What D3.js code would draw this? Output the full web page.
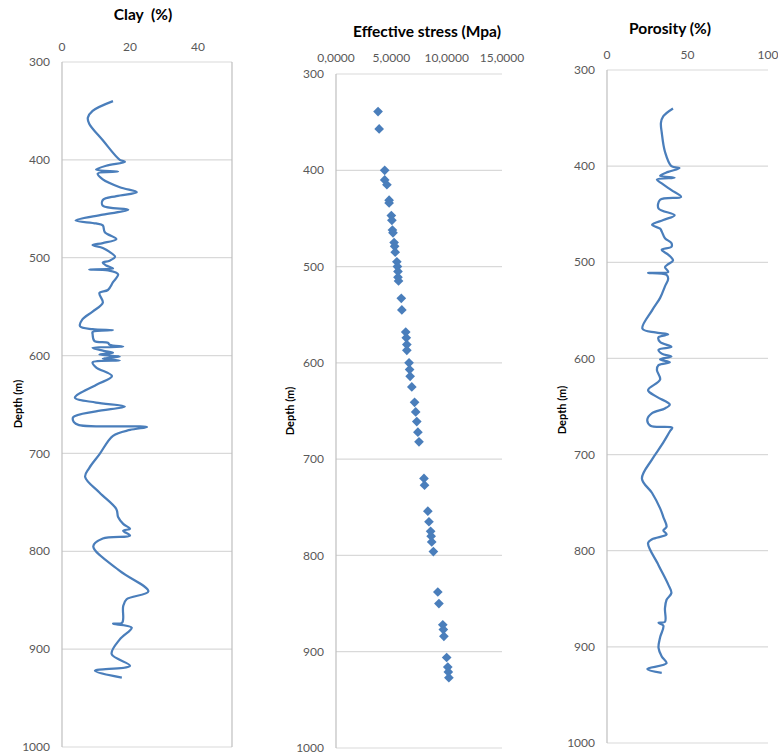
<!DOCTYPE html>
<html>
<head>
<meta charset="utf-8">
<script src="https://cdn.jsdelivr.net/npm/d3@7"></script>
<style>
  body { margin: 0; background: #fff; }
  svg { display: block; font-family: Lato, "Liberation Sans", sans-serif; }
  .tick-label { fill: #595959; font-size: 12px; }
  .title { fill: #000; font-size: 15.5px; font-weight: bold; white-space: pre; }
  .ylab { fill: #000; font-size: 11px; font-weight: bold; }
</style>
</head>
<body>
<script>
// Data
let depthTicks = [300, 400, 500, 600, 700, 800, 900, 1000];

let clayTicks = [0, 20, 40];
let clayDepth = [340, 350, 357, 363, 380, 400, 402, 406, 410, 412, 414, 420, 428, 433, 437, 441, 447, 451, 456, 462,
  465, 467, 474, 481, 485, 487, 490, 494, 499, 503, 505, 508, 511, 512, 513, 517, 525, 533, 536, 546,
  555, 563, 570, 573, 574, 576, 578, 585, 587, 589, 591, 592, 595, 597, 599, 601, 603, 605, 607, 612,
  621, 630, 643, 648, 652, 657, 663, 668, 671, 673, 676, 682, 701, 715, 724, 740, 757, 765, 772, 777,
  779, 784, 787, 795, 820, 841, 849, 856, 873, 874, 878, 890, 905, 917, 922, 929];
let clayValue = [15, 9, 7.6, 8, 12, 17, 18.5, 13, 10, 16.5, 10.5, 12, 17, 22, 16, 12, 12, 19.5, 12, 4,
  10, 12, 12.6, 16, 12, 9, 12, 14, 15.6, 14, 12, 13, 15, 8, 13.6, 16.5, 15, 13.5, 11, 12,
  9, 6, 5.3, 9, 15, 9, 9, 9.5, 13.5, 14, 18, 9, 12, 15, 11, 17, 12, 17, 9, 10,
  14.7, 10, 3.8, 10, 18.5, 10, 3.3, 3.5, 5, 25, 20, 15, 11, 8, 6.8, 11, 16, 16.5, 18, 20,
  18, 20, 12, 9.2, 17, 25.4, 19, 18, 17.7, 15, 20.5, 17, 14.6, 20, 9.7, 17.6];

let stressTicks = [0, 5, 10, 15];
let stressDepth = [339, 357, 400, 410, 415, 431, 434, 447, 452, 462, 465, 475, 479, 485, 495, 500, 505, 511, 515, 533,
  545, 568, 574, 581, 587, 600, 607, 614, 625, 641, 651, 661, 672, 682, 720, 727, 754, 765, 775, 780,
  786, 796, 838, 850, 872, 877, 884, 906, 916, 921, 927];
let stressValue = [3.8, 3.9, 4.4, 4.4, 4.6, 4.8, 4.8, 5.0, 5.05, 5.1, 5.15, 5.25, 5.3, 5.35, 5.5, 5.55, 5.6, 5.6, 5.65, 5.9,
  5.95, 6.3, 6.35, 6.4, 6.4, 6.6, 6.65, 6.7, 6.85, 7.1, 7.2, 7.3, 7.4, 7.5, 7.95, 8.0, 8.3, 8.4, 8.55, 8.6,
  8.65, 8.8, 9.2, 9.3, 9.65, 9.7, 9.75, 10.0, 10.1, 10.15, 10.2];

let poroTicks = [0, 50, 100];
let poroDepth = [340, 348, 355, 365, 385, 400, 402, 406, 410, 412, 414, 418, 425, 432, 435, 444, 451, 456, 461, 465,
  468, 475, 480, 484, 487, 492, 498, 502, 505, 510, 511, 513, 517, 525, 537, 550, 569, 573, 575, 578,
  583, 588, 591, 595, 598, 601, 604, 607, 612, 622, 633, 640, 648, 652, 657, 664, 670, 672, 676, 690,
  705, 725, 740, 756, 765, 775, 779, 783, 788, 792, 815, 835, 844, 851, 860, 874, 875, 878, 890, 901,
  910, 917, 923, 927];
let poroValue = [41, 35, 33.5, 34, 36, 40, 45, 38, 33, 42, 31, 34, 40, 46, 33, 32, 42, 35, 28, 33,
  34, 36, 40, 40, 34, 38, 41, 38, 36, 38, 25.5, 37, 38, 36, 33, 28, 22, 30, 38, 32,
  33, 40, 32, 34, 40, 33, 39, 32, 31, 33, 25.5, 31, 39, 36, 28, 25, 27, 40.5, 39, 34,
  28, 21.7, 28, 33, 35, 37, 35, 37, 28, 25.5, 32, 38, 40, 37, 36, 36, 32, 35, 33, 32,
  34, 37, 25, 34];

let width = 778, height = 756;
let blue = "#4a7ebb";

let svg = d3.select("body").append("svg")
  .attr("width", width)
  .attr("height", height);

let commaFmt = d3.formatLocale({decimal: ",", thousands: ".", grouping: [3], currency: ["", ""]}).format(".4f");

// panel layouts
let panels = [
  {title: "Clay  (%)", left: 62, right: 232, top: 62, bottom: 747, domain: [0, 50], ticks: clayTicks,
   fmt: d => d, titleX: 143, titleY: 20, xLabY: 51, ylabX: 22, ylabY: 404, border: true,
   depth: clayDepth, values: clayValue, type: "line"},
  {title: "Effective stress (Mpa)", left: 336, right: 502, top: 74, bottom: 748, domain: [0, 15], ticks: stressTicks,
   fmt: commaFmt, titleX: 427, titleY: 37, xLabY: 62, ylabX: 294, ylabY: 411, border: false,
   depth: stressDepth, values: stressValue, type: "scatter"},
  {title: "Porosity (%)", left: 607, right: 768, top: 70, bottom: 743, domain: [0, 100], ticks: poroTicks,
   fmt: d => d, titleX: 670, titleY: 34, xLabY: 59, ylabX: 566, ylabY: 410, border: false,
   depth: poroDepth, values: poroValue, type: "line"}
];

panels.forEach(p => {
  let x = d3.scaleLinear().domain(p.domain).range([p.left, p.right]);
  let y = d3.scaleLinear().domain([300, 1000]).range([p.top, p.bottom]);
  let g = svg.append("g");

  // gridlines
  g.selectAll(".grid").data(depthTicks).enter().append("line")
    .attr("x1", p.left).attr("x2", p.right)
    .attr("y1", d => y(d)).attr("y2", d => y(d))
    .attr("stroke", "#d9d9d9").attr("stroke-width", 1.2);

  // left axis line
  g.append("line")
    .attr("x1", p.left).attr("x2", p.left)
    .attr("y1", p.top).attr("y2", p.bottom)
    .attr("stroke", "#bfbfbf").attr("stroke-width", 1.2);
  if (p.border) {
    g.append("line")
      .attr("x1", p.right).attr("x2", p.right)
      .attr("y1", p.top).attr("y2", p.bottom)
      .attr("stroke", "#bfbfbf").attr("stroke-width", 1.2);
  }

  // depth tick labels
  g.selectAll(".dl").data(depthTicks).enter().append("text")
    .attr("class", "tick-label")
    .attr("x", p.left - 12)
    .attr("y", d => y(d))
    .attr("dy", "0.35em")
    .attr("text-anchor", "end")
    .text(d => d);

  // top tick labels
  g.selectAll(".xl").data(p.ticks).enter().append("text")
    .attr("class", "tick-label")
    .attr("x", d => x(d))
    .attr("y", p.xLabY)
    .attr("text-anchor", "middle")
    .text(p.fmt);

  g.append("text").attr("class", "title")
    .attr("x", p.titleX)
    .attr("y", p.titleY)
    .attr("text-anchor", "middle")
    .text(p.title);

  g.append("text").attr("class", "ylab")
    .attr("transform", "translate(" + p.ylabX + "," + p.ylabY + ") rotate(-90)")
    .attr("text-anchor", "middle")
    .text("Depth (m)");

  let pts = p.depth.map((d, i) => [p.values[i], d]);
  if (p.type == "line") {
    let line = d3.line()
      .x(d => x(d[0])).y(d => y(d[1]))
      .curve(d3.curveCatmullRom.alpha(0.5));
    g.append("path").datum(pts)
      .attr("d", line)
      .attr("fill", "none")
      .attr("stroke", blue)
      .attr("stroke-width", 2.25)
      .attr("stroke-linejoin", "round");
  } else {
    g.selectAll(".pt").data(pts).enter().append("path")
      .attr("d", d3.symbol().type(d3.symbolDiamond2).size(60))
      .attr("transform", d => "translate(" + x(d[0]) + "," + y(d[1]) + ")")
      .attr("fill", blue);
  }
});
</script>
</body>
</html>
